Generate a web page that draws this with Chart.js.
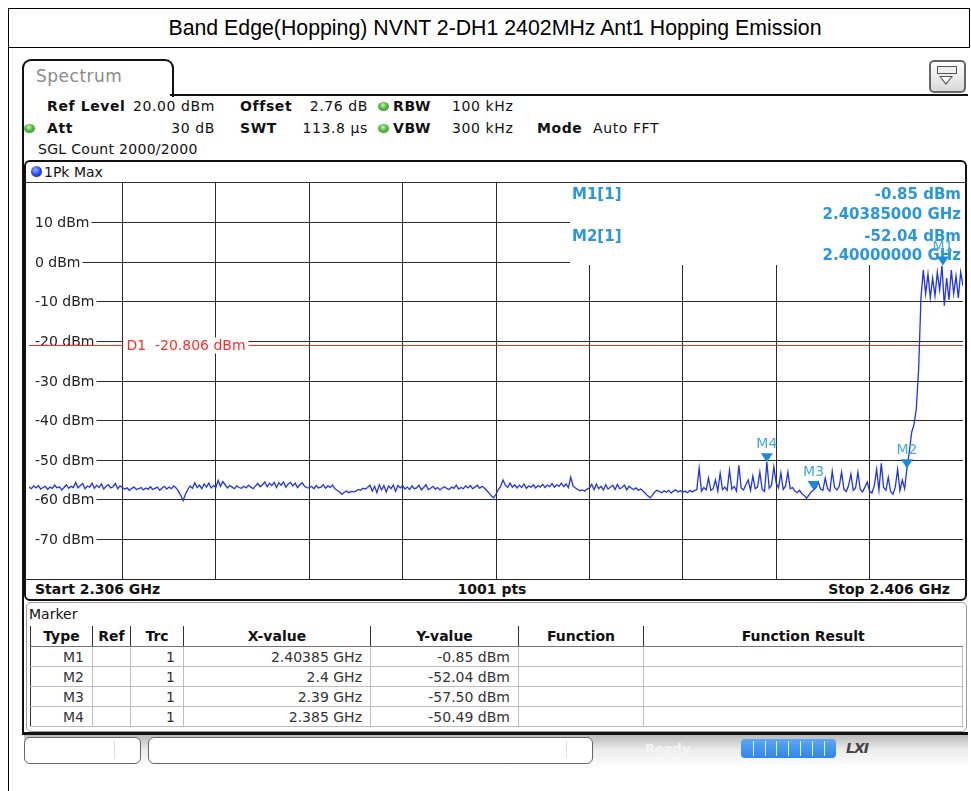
<!DOCTYPE html>
<html>
<head>
<meta charset="utf-8">
<title>Band Edge(Hopping) NVNT 2-DH1 2402MHz Ant1 Hopping Emission</title>
<script src="https://cdn.jsdelivr.net/npm/chart.js@4.4.1/dist/chart.umd.min.js"></script>
<style>
  body { margin: 0; background: #fff; }
  #page { position: relative; width: 971px; height: 791px; overflow: hidden;
          font-family: "DejaVu Sans", Verdana, sans-serif; font-size: 14px; color: #111; }
  .a { position: absolute; white-space: nowrap; }
  .b { font-weight: bold; }
  .hd { line-height: 16px; letter-spacing: 0.6px; }
  .dot { position: absolute; width: 11px; height: 9px; border-radius: 50%;
         background: radial-gradient(circle at 45% 35%, #c6f5b0 0%, #55b545 45%, #2f8a24 100%); }
  #mk { border-collapse: collapse; table-layout: fixed; }
  #mk th { height: 20px; padding: 0; font-weight: bold; text-align: center;
           border-right: 1px solid #333; border-bottom: 1px solid #777; line-height: 18px; }
  #mk th:first-child { border-left: 1px solid #333; }
  #mk th:last-child { border-right: none; }
  #mk td { height: 19px; padding: 0 8px 0 0; text-align: right; color: #333;
           border: 1px solid #bdbdbd; line-height: 18px; }
  #mk td:first-child { border-left: 1px solid #333; }
</style>
</head>
<body>
<div id="page">
  <!-- outer report cell -->
  <div class="a" style="left:8px;top:8px;width:962px;height:0;border-top:1px solid #000"></div>
  <div class="a" style="left:8px;top:47px;width:962px;height:0;border-top:1px solid #000"></div>
  <div class="a" style="left:8px;top:8px;width:0;height:783px;border-left:1px solid #000"></div>
  <div class="a" style="left:969px;top:8px;width:0;height:40px;border-left:1px solid #000"></div>
  <div class="a" style="left:14px;top:8px;width:962px;height:40px;line-height:40px;text-align:center;font-family:'Liberation Sans',Arial,sans-serif;font-size:21.3px;color:#000">Band Edge(Hopping) NVNT 2-DH1 2402MHz Ant1 Hopping Emission</div>

  <!-- instrument tab and frame -->
  <div class="a" style="left:22px;top:59px;width:148px;height:36px;border:2px solid #111;border-bottom:none;border-radius:9px 9px 0 0;background:#fff"></div>
  <div class="a" style="left:36px;top:66px;font-size:17px;color:#8a8a8a;letter-spacing:0.5px">Spectrum</div>
  <div class="a" style="left:170px;top:94px;width:798px;height:2px;background:#111"></div>
  <div class="a" style="left:22px;top:94px;width:2px;height:641px;background:#111"></div>

  <!-- preset icon -->
  <div class="a" style="left:929px;top:60px;width:33px;height:29px;border:2px solid #666;border-radius:5px;background:linear-gradient(#ffffff,#d9d9d9)"></div>
  <div class="a" style="left:937px;top:66px;width:18px;height:6px;border:1px solid #555;background:#eee"></div>
  <div class="a" style="left:939px;top:76px;width:0;height:0;border-left:7px solid transparent;border-right:7px solid transparent;border-top:9px solid #555"></div>
  <div class="a" style="left:941px;top:77px;width:0;height:0;border-left:5px solid transparent;border-right:5px solid transparent;border-top:6px solid #fff"></div>

  <!-- setting lines -->
  <div class="a b hd" style="left:47px;top:98px">Ref Level</div>
  <div class="a hd" style="left:120px;top:98px;width:95px;text-align:right">20.00 dBm</div>
  <div class="a b hd" style="left:240px;top:98px">Offset</div>
  <div class="a hd" style="left:290px;top:98px;width:78px;text-align:right">2.76 dB</div>
  <div class="dot" style="left:378px;top:102px"></div>
  <div class="a b hd" style="left:393px;top:98px">RBW</div>
  <div class="a hd" style="left:452px;top:98px">100 kHz</div>

  <div class="dot" style="left:24px;top:124px"></div>
  <div class="a b hd" style="left:47px;top:120px">Att</div>
  <div class="a hd" style="left:120px;top:120px;width:95px;text-align:right">30 dB</div>
  <div class="a b hd" style="left:240px;top:120px">SWT</div>
  <div class="a hd" style="left:290px;top:120px;width:78px;text-align:right">113.8 µs</div>
  <div class="dot" style="left:378px;top:124px"></div>
  <div class="a b hd" style="left:393px;top:120px">VBW</div>
  <div class="a hd" style="left:452px;top:120px">300 kHz</div>
  <div class="a b hd" style="left:537px;top:120px">Mode</div>
  <div class="a hd" style="left:593px;top:120px">Auto FFT</div>

  <div class="a hd" style="left:38px;top:141px;letter-spacing:0.3px">SGL Count 2000/2000</div>

  <!-- diagram -->
  <div class="a" style="left:24px;top:160px;width:939px;height:437px;border:2px solid #111;border-radius:6px;background:#fff"></div>
  <div class="a" style="left:26px;top:182px;width:939px;height:0;border-top:1px solid #333"></div>
  <div class="a" style="left:31px;top:166px;width:11px;height:11px;border-radius:50%;background:radial-gradient(circle at 40% 35%,#8fb0ff 0%,#2a4be8 50%,#0b1f9a 100%)"></div>
  <div class="a" style="left:44px;top:164px;line-height:16px">1Pk Max</div>
  <div class="a" style="left:29px;top:183px;width:934px;height:396px">
    <canvas id="trace" width="934" height="396"></canvas>
  </div>
  <div class="a" style="left:26px;top:579px;width:939px;height:0;border-top:1px solid #222"></div>
  <div class="a b" style="left:35px;top:581px;line-height:16px">Start 2.306 GHz</div>
  <div class="a b" style="left:392px;top:581px;width:200px;text-align:center;line-height:16px">1001 pts</div>
  <div class="a b" style="left:750px;top:581px;width:200px;text-align:right;line-height:16px">Stop 2.406 GHz</div>

  <!-- marker table -->
  <div class="a" style="left:26px;top:602px;width:939px;height:128px;border:1px solid #9a9a9a;border-radius:5px"></div>
  <div class="a" style="left:29px;top:606px;line-height:16px">Marker</div>
  <table id="mk" class="a" style="left:30px;top:626px;width:932px">
    <colgroup><col style="width:62px"><col style="width:38px"><col style="width:53px"><col style="width:187px"><col style="width:148px"><col style="width:125px"><col style="width:319px"></colgroup>
    <thead><tr><th>Type</th><th>Ref</th><th>Trc</th><th>X-value</th><th>Y-value</th><th>Function</th><th>Function Result</th></tr></thead>
    <tbody id="mkBody"></tbody>
  </table>

  <!-- status bar -->
  <div class="a" style="left:22px;top:732px;width:946px;height:3px;background:#111"></div>
  <div class="a" style="left:24px;top:735px;width:944px;height:33px;background:linear-gradient(#b9b9b9 0%,#ececec 45%,#ffffff 100%)"></div>
  <div class="a" style="left:24px;top:737px;width:115px;height:25px;border:1px solid #666;border-radius:6px;background:#fff"></div>
  <div class="a" style="left:114px;top:741px;width:0;height:17px;border-left:1px solid #ddd"></div>
  <div class="a" style="left:148px;top:737px;width:443px;height:25px;border:1px solid #666;border-radius:6px;background:#fff"></div>
  <div class="a" style="left:566px;top:741px;width:0;height:17px;border-left:1px solid #ddd"></div>
  <div class="a b" style="left:645px;top:741px;font-size:13px;color:#f4f4f4">Ready</div>
  <div class="a" id="bar" style="left:741px;top:739px;width:95px;height:19px;border-radius:4px;background:linear-gradient(#5aa8f5,#2f86e8)"></div>
  <div class="a" style="left:846px;top:740px;font-family:'DejaVu Sans';font-weight:bold;font-style:italic;font-size:14px;color:#444;letter-spacing:-1px">LXI</div>
</div>

<script>
// sweep settings
const startMHz = 2306;
const stopMHz = 2406;
const stepMHz = 0.25;

// trace 1 (1Pk Max), level in dBm for each sweep point
const traceLevels = [
  -56.8,-57.2,-56.5,-57.0,-56.4,-57.3,-56.9,-56.6,-57.4,-56.8,-57.1,-56.3,-57.0,-56.7,-57.5,-56.9,-56.2,-57.1,-56.6,-56.9,
  -55.6,-57.0,-56.4,-55.9,-57.2,-56.5,-56.8,-55.8,-57.1,-56.3,-56.9,-56.0,-57.3,-56.6,-56.2,-57.0,-56.7,-55.9,-57.2,-56.5,
  -56.9,-57.3,-57.0,-57.6,-57.1,-56.8,-57.4,-57.2,-56.9,-57.5,-57.0,-57.3,-56.7,-57.4,-57.1,-56.8,-57.6,-57.0,-56.6,-57.3,
  -56.8,-57.2,-56.5,-57.0,-57.8,-58.9,-60.2,-58.6,-57.4,-56.5,-57.1,-55.7,-56.9,-56.3,-57.2,-56.0,-56.8,-55.8,-57.0,-56.4,
  -56.9,-55.1,-56.6,-55.4,-56.2,-57.0,-56.4,-56.8,-57.2,-56.5,-56.9,-57.1,-56.6,-57.0,-56.3,-56.8,-57.2,-56.5,-55.9,-56.7,
  -56.2,-55.5,-56.7,-55.8,-56.4,-55.6,-56.9,-55.7,-56.3,-55.5,-56.8,-56.0,-55.6,-56.5,-55.8,-56.9,-56.2,-55.7,-56.6,-56.9,
  -57.0,-56.6,-57.2,-56.4,-57.0,-56.8,-56.2,-57.1,-56.5,-56.9,-56.3,-57.2,-57.6,-58.0,-58.6,-58.1,-57.8,-58.2,-57.9,-58.0,
  -57.8,-57.4,-57.6,-57.1,-57.3,-56.9,-56.3,-57.8,-56.6,-58.2,-56.2,-57.5,-56.4,-58.0,-56.5,-57.2,-56.3,-57.9,-56.4,-57.0,
  -56.4,-57.3,-56.8,-57.4,-56.5,-57.2,-57.0,-56.3,-57.5,-56.9,-56.2,-57.4,-57.1,-56.6,-57.3,-56.9,-57.5,-57.0,-56.7,-57.2,
  -57.4,-56.8,-57.1,-56.3,-57.3,-56.9,-57.2,-56.5,-57.0,-56.4,-57.2,-56.8,-56.3,-57.1,-56.6,-57.0,-57.6,-58.3,-59.0,-59.5,
  -58.6,-57.4,-56.6,-55.0,-56.3,-56.9,-55.8,-56.8,-56.2,-57.0,-56.3,-56.9,-56.0,-57.1,-56.5,-56.8,-56.2,-57.0,-56.4,-56.8,
  -56.1,-56.9,-56.3,-56.7,-55.9,-56.8,-56.2,-56.6,-55.8,-56.7,-56.0,-56.9,-54.3,-56.5,-57.0,-57.4,-57.7,-57.5,-57.8,-57.3,
  -57.0,-56.1,-57.4,-56.0,-57.2,-56.6,-57.5,-56.2,-57.3,-56.8,-56.3,-57.4,-56.1,-57.2,-56.9,-56.3,-57.5,-56.6,-57.1,-57.4,
  -57.0,-57.6,-57.3,-57.8,-58.4,-59.0,-59.5,-58.8,-58.0,-57.6,-57.9,-58.2,-57.7,-58.1,-57.6,-58.3,-57.8,-57.5,-58.0,-57.7,
  -58.1,-57.8,-58.2,-57.6,-58.0,-57.7,-57.4,-52.0,-57.8,-56.9,-57.5,-54.5,-57.6,-57.2,-55.0,-57.8,-53.3,-57.4,-56.8,-57.6,
  -52.5,-57.3,-56.6,-57.8,-51.3,-57.0,-57.5,-56.2,-55.0,-57.6,-54.0,-57.2,-56.8,-53.0,-57.4,-57.9,-50.49,-57.1,-56.3,-51.7,
  -55.8,-57.0,-53.2,-57.4,-56.5,-53.0,-57.2,-56.9,-57.8,-58.2,-57.6,-58.5,-58.9,-59.6,-58.8,-58.0,-57.5,-56.9,-55.5,-57.3,
  -57.6,-54.5,-57.2,-57.8,-52.8,-56.9,-57.5,-56.6,-53.0,-57.3,-57.9,-56.4,-53.5,-57.6,-57.0,-53.0,-57.4,-58.0,-56.8,-55.5,
  -57.8,-58.3,-56.5,-52.3,-57.5,-50.8,-56.9,-57.6,-54.3,-57.9,-58.6,-56.8,-52.3,-57.7,-55.0,-57.2,-52.04,-48.0,-43.0,-41.0,
  -37.0,-27.0,-9.0,-2.0,-8.0,-3.0,-9.0,-4.0,-8.5,-2.5,-7.0,-0.9,-11.0,-4.0,-9.5,-2.0,-8.0,-3.5,-9.0,-2.5,-6.0
];

// markers
const markerNames = ['M1', 'M2', 'M3', 'M4'];
const markerGHz = [2.40385, 2.4, 2.39, 2.385];
const markerLevels = [-0.85, -52.04, -57.50, -50.49];

// display line D1
const d1Level = -20.806;

// level axis labels
const levelTicks = [10, 0, -10, -20, -30, -40, -50, -60, -70];

const markerBlue = '#2b97d9';

const tracePoints = traceLevels.map((v, i) => ({ x: startMHz + i * stepMHz, y: v }));

// marker table rows
const tbody = document.getElementById('mkBody');
markerNames.forEach((name, i) => {
  const tr = document.createElement('tr');
  [name, '', '1', markerGHz[i] + ' GHz', markerLevels[i].toFixed(2) + ' dBm', '', ''].forEach(t => {
    const td = document.createElement('td');
    td.textContent = t;
    tr.appendChild(td);
  });
  tbody.appendChild(tr);
});

// progress bar segments
const bar = document.getElementById('bar');
for (let k = 1; k < 8; k++) {
  const s = document.createElement('div');
  s.style.cssText = 'position:absolute;top:2px;width:1px;height:15px;background:#e8f2ff;left:' + (k * 11.8) + 'px';
  bar.appendChild(s);
}

const screenPlugin = {
  id: 'screen',
  beforeDatasetsDraw(chart) {
    const { ctx, chartArea: a, scales: { x, y } } = chart;
    ctx.save();

    // level labels sit inside the diagram and cut the grid lines
    ctx.font = '14px "DejaVu Sans"';
    ctx.textBaseline = 'middle';
    levelTicks.forEach(v => {
      const py = y.getPixelForValue(v);
      const label = v + ' dBm';
      const w = ctx.measureText(label).width;
      ctx.fillStyle = '#fff';
      ctx.fillRect(a.left, py - 8, w + 8, 16);
      ctx.fillStyle = '#222';
      ctx.fillText(label, a.left + 6, py + 1);
    });

    // display line
    const dy = Math.round(y.getPixelForValue(d1Level)) + 0.5;
    ctx.strokeStyle = '#ff2d2d';
    ctx.lineWidth = 1;
    ctx.beginPath();
    ctx.moveTo(a.left, dy);
    ctx.lineTo(a.right, dy);
    ctx.stroke();
    const d1Text = 'D1  -20.806 dBm';
    const lx = x.getPixelForValue(2316) + 1;
    const lw = ctx.measureText(d1Text).width;
    ctx.fillStyle = '#fff';
    ctx.fillRect(lx, dy - 8, lw + 6, 16);
    ctx.fillStyle = '#ff2d2d';
    ctx.fillText(d1Text, lx + 3, dy + 1);

    // marker readout box
    ctx.fillStyle = '#fff';
    ctx.fillRect(541, a.top, a.right - 541, 82);
    ctx.font = 'bold 15px "DejaVu Sans"';
    ctx.fillStyle = markerBlue;
    ctx.textAlign = 'left';
    ctx.fillText(markerNames[0] + '[1]', 543, 12);
    ctx.fillText(markerNames[1] + '[1]', 543, 54);
    ctx.textAlign = 'right';
    ctx.fillText(markerLevels[0].toFixed(2) + ' dBm', a.right - 2, 12);
    ctx.fillText(markerGHz[0].toFixed(8) + ' GHz', a.right - 2, 32);
    ctx.fillText(markerLevels[1].toFixed(2) + ' dBm', a.right - 2, 54);
    ctx.fillText(markerGHz[1].toFixed(8) + ' GHz', a.right - 2, 73);
    ctx.restore();
  },
  afterDatasetsDraw(chart) {
    const { ctx, scales: { x, y } } = chart;
    ctx.save();
    ctx.font = '14px "DejaVu Sans"';
    ctx.textAlign = 'center';
    ctx.textBaseline = 'middle';
    markerNames.forEach((name, i) => {
      const px = x.getPixelForValue(markerGHz[i] * 1000);
      const py = y.getPixelForValue(markerLevels[i]);
      ctx.fillStyle = '#1a8ad6';
      ctx.beginPath();
      ctx.moveTo(px, py);
      ctx.lineTo(px - 6, py - 9);
      ctx.lineTo(px + 6, py - 9);
      ctx.closePath();
      ctx.fill();
      ctx.fillStyle = '#45a8e6';
      ctx.fillText(name, px, py - 18);
    });
    ctx.restore();
  }
};

const gridColor = c => (c.tick && (c.index === 0 || c.index === 10)) ? 'rgba(0,0,0,0)' : '#2a2a2a';

new Chart(document.getElementById('trace'), {
  type: 'line',
  data: {
    datasets: [{
      data: tracePoints,
      borderColor: '#1f33e8',
      borderWidth: 1.3,
      pointRadius: 0,
      tension: 0,
      fill: false
    }]
  },
  options: {
    responsive: false,
    animation: false,
    devicePixelRatio: 1,
    layout: { padding: 0 },
    plugins: { legend: { display: false }, tooltip: { enabled: false } },
    scales: {
      x: {
        type: 'linear', min: startMHz, max: stopMHz,
        ticks: { display: false, stepSize: 10 },
        grid: { drawTicks: false, color: gridColor, lineWidth: 1 },
        border: { display: false }
      },
      y: {
        min: -80, max: 20,
        ticks: { display: false, stepSize: 10 },
        grid: { drawTicks: false, color: gridColor, lineWidth: 1 },
        border: { display: false }
      }
    }
  },
  plugins: [screenPlugin]
});
</script>
</body>
</html>
